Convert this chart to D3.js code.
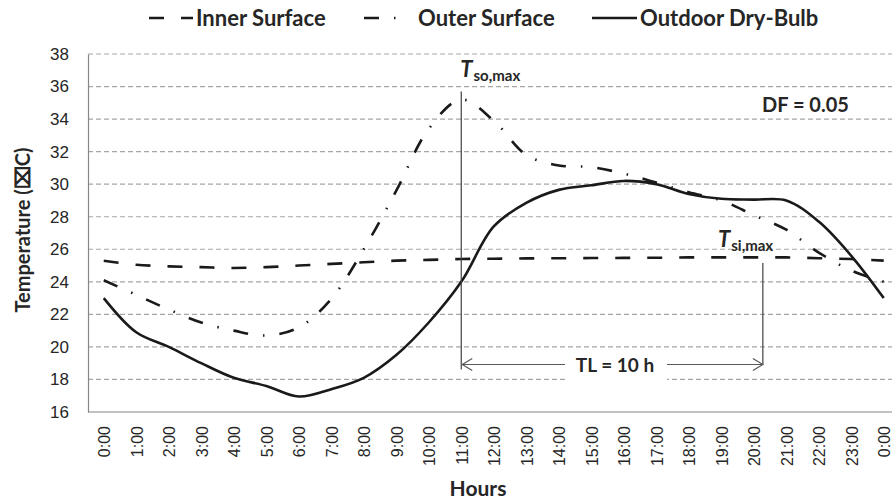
<!DOCTYPE html>
<html>
<head>
<meta charset="utf-8">
<script src="https://cdn.jsdelivr.net/npm/d3@7"></script>
<style>
  body { margin: 0; background: #fff; }
  svg { display: block; font-family: Lato, "Open Sans", sans-serif; }
  .grid line { stroke: #a6a6a6; stroke-width: 1.2; stroke-dasharray: 5,3; }
  .axis path { stroke: #868686; stroke-width: 1.2; }
  .axis line { display: none; }
  .axis text { fill: #262626; }
</style>
</head>
<body>
<div id="chart"></div>
<script>
// hourly values
var hourLabels = ["0:00", "1:00", "2:00", "3:00", "4:00", "5:00", "6:00", "7:00", "8:00", "9:00", "10:00", "11:00",
    "12:00", "13:00", "14:00", "15:00", "16:00", "17:00", "18:00", "19:00", "20:00", "21:00", "22:00", "23:00", "0:00"];
var innerSurface = [25.3, 25.05, 24.95, 24.9, 24.85, 24.9, 25.0, 25.1, 25.2, 25.3, 25.35, 25.4, 25.42,
    25.44, 25.45, 25.46, 25.47, 25.48, 25.5, 25.5, 25.5, 25.5, 25.45, 25.4, 25.3];
var outerSurface = [24.1, 23.2, 22.3, 21.5, 21.0, 20.7, 21.2, 22.95, 26.0, 29.6, 33.4, 35.2, 33.9,
    31.8, 31.15, 31.05, 30.65, 30.1, 29.5, 29.0, 28.1, 27.2, 25.8, 24.7, 24.0];
var outdoorDryBulb = [23.0, 20.9, 20.0, 19.0, 18.1, 17.6, 16.95, 17.4, 18.1, 19.5, 21.5, 24.0, 27.4,
    28.85, 29.65, 29.93, 30.2, 30.0, 29.4, 29.1, 29.05, 29.0, 27.7, 25.6, 23.0];
var yTicks = [16, 18, 20, 22, 24, 26, 28, 30, 32, 34, 36, 38];

var seriesNames = ["Inner Surface", "Outer Surface", "Outdoor Dry-Bulb"];
var seriesDash = ["15,17", "15,15,1.5,15", null];

// annotation anchors (hour, temperature)
var tsoHour = 11, tsoTop = 35.7;
var tsiHour = 20.28, tsiTop = 25.15;
var tlLevel = 18.92;

var data = [
    { name: seriesNames[0], values: innerSurface, dash: seriesDash[0] },
    { name: seriesNames[1], values: outerSurface, dash: seriesDash[1] },
    { name: seriesNames[2], values: outdoorDryBulb, dash: seriesDash[2] }
];

var width = 892, height = 501;
var svg = d3.select("#chart").append("svg")
    .attr("width", width)
    .attr("height", height);

var xScale = d3.scaleBand()
    .domain(d3.range(hourLabels.length))
    .range([87.5, 900]);
var xHour = d3.scaleLinear()
    .domain([0, hourLabels.length - 1])
    .range([xScale(0) + xScale.bandwidth() / 2, xScale(hourLabels.length - 1) + xScale.bandwidth() / 2]);

var yScale = d3.scaleLinear()
    .domain([16, 38])
    .range([412, 54]);

// gridlines
svg.append("g")
    .attr("class", "grid")
    .selectAll("line")
    .data(yTicks.slice(1))
    .enter().append("line")
    .attr("x1", 88)
    .attr("x2", 900)
    .attr("y1", d => yScale(d))
    .attr("y2", d => yScale(d));

// axes
svg.append("g")
    .attr("class", "axis y")
    .attr("transform", "translate(88,0)")
    .call(d3.axisLeft(yScale).tickValues(yTicks).tickSize(0).tickPadding(19).tickSizeOuter(0))
    .selectAll("text")
    .style("font-size", "17px");

var xAxis = svg.append("g")
    .attr("class", "axis x")
    .attr("transform", "translate(0,412)")
    .call(d3.axisBottom(xScale).tickFormat(i => hourLabels[i]).tickSize(0).tickSizeOuter(0));
xAxis.select("path").attr("d", "M88,0H900");
xAxis.selectAll("text")
    .style("font-size", "16px")
    .attr("transform", "rotate(-90)")
    .attr("text-anchor", "end")
    .attr("x", -14)
    .attr("y", 1)
    .attr("dy", "0.35em");

// axis titles
svg.append("text")
    .attr("transform", "translate(30,230) rotate(-90)")
    .attr("text-anchor", "middle")
    .style("font-size", "20px")
    .style("font-weight", "bold")
    .attr("fill", "#262626")
    .text("Temperature (\u2327C)");

svg.append("text")
    .attr("x", 478)
    .attr("y", 496)
    .attr("text-anchor", "middle")
    .style("font-size", "21px")
    .style("font-weight", "bold")
    .attr("fill", "#262626")
    .text("Hours");

// series
var line = d3.line()
    .x((d, i) => xHour(i))
    .y(d => yScale(d))
    .curve(d3.curveCatmullRom.alpha(0.5));

svg.append("g")
    .selectAll("path")
    .data(data)
    .enter().append("path")
    .attr("d", d => line(d.values))
    .attr("fill", "none")
    .attr("stroke", "#1a1a1a")
    .attr("stroke-width", 2.6)
    .attr("stroke-dasharray", d => d.dash);

// annotations
var ann = svg.append("g").attr("stroke", "#404040").attr("stroke-width", 1.2).attr("fill", "none");
var xSo = xHour(tsoHour), xSi = xHour(tsiHour), yTl = yScale(tlLevel);

ann.append("line")
    .attr("x1", xSo).attr("x2", xSo)
    .attr("y1", yScale(tsoTop)).attr("y2", yTl + 5);
ann.append("line")
    .attr("x1", xSi).attr("x2", xSi)
    .attr("y1", yScale(tsiTop)).attr("y2", yTl);

// white box behind TL label
svg.append("rect")
    .attr("x", 565)
    .attr("y", yTl - 14)
    .attr("width", 102)
    .attr("height", 33)
    .attr("fill", "#fff");

var arr = svg.append("g").attr("stroke", "#595959").attr("stroke-width", 1.2).attr("fill", "none");
arr.append("line").attr("x1", xSo + 1).attr("x2", 565).attr("y1", yTl).attr("y2", yTl);
arr.append("line").attr("x1", 667).attr("x2", xSi).attr("y1", yTl).attr("y2", yTl);
arr.append("path").attr("d", "M" + (xSo + 11) + "," + (yTl - 6) + "L" + (xSo + 1) + "," + yTl + "L" + (xSo + 11) + "," + (yTl + 6));
arr.append("path").attr("d", "M" + (xSi - 10) + "," + (yTl - 6) + "L" + xSi + "," + yTl + "L" + (xSi - 10) + "," + (yTl + 6));

svg.append("text")
    .attr("x", 615)
    .attr("y", yTl + 8)
    .attr("text-anchor", "middle")
    .style("font-size", "19px")
    .style("font-weight", "bold")
    .attr("fill", "#262626")
    .text("TL = 10 h");

function tLabel(x, y, sub) {
    var t = svg.append("text")
        .attr("x", x)
        .attr("y", y)
        .attr("fill", "#262626")
        .style("font-weight", "bold");
    t.append("tspan")
        .style("font-size", "22px")
        .style("font-style", "italic")
        .text("T");
    t.append("tspan")
        .attr("dy", 4)
        .attr("dx", 1)
        .style("font-size", "15px")
        .text(sub);
}
tLabel(xSo - 1, yScale(36.6), "so,max");
tLabel(718, yScale(26.15), "si,max");

svg.append("text")
    .attr("x", 762)
    .attr("y", yScale(34.45))
    .style("font-size", "20px")
    .style("font-weight", "bold")
    .attr("fill", "#262626")
    .text("DF = 0.05");

// legend
var legendX = [149, 364, 592];
var legendTextX = [196, 418, 640];
var legend = svg.selectAll(".legend")
    .data(data)
    .enter().append("g")
    .attr("class", "legend");

legend.append("line")
    .attr("x1", (d, i) => legendX[i])
    .attr("x2", (d, i) => legendTextX[i] - 3 - (i === 1 ? 17 : 0))
    .attr("y1", 18)
    .attr("y2", 18)
    .attr("stroke", "#1a1a1a")
    .attr("stroke-width", 2.6)
    .attr("stroke-dasharray", d => d.dash);

legend.append("text")
    .attr("x", (d, i) => legendTextX[i])
    .attr("y", 26)
    .style("font-size", "22px")
    .style("font-weight", "bold")
    .attr("fill", "#262626")
    .text(d => d.name);
</script>
</body>
</html>
